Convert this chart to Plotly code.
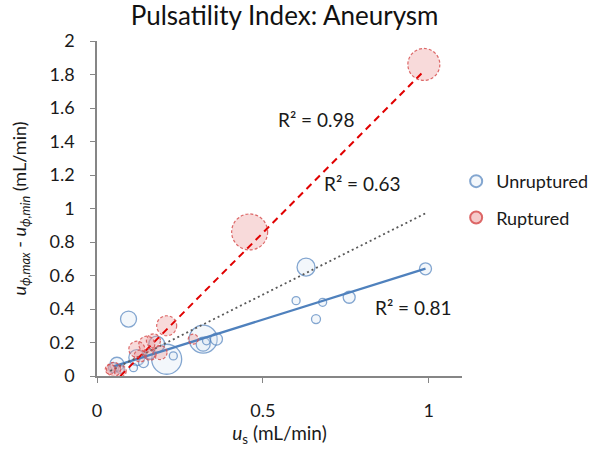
import plotly.graph_objects as go

# Unruptured (blue) bubbles: x, y, bubble diameter
unr_x = [0.99, 0.76, 0.63, 0.60, 0.68, 0.66, 0.095, 0.21, 0.32, 0.32, 0.36, 0.33, 0.23, 0.06, 0.05, 0.12, 0.11, 0.14, 0.18, 0.16, 0.07]
unr_y = [0.64, 0.47, 0.65, 0.45, 0.44, 0.34, 0.34, 0.10, 0.22, 0.19, 0.22, 0.21, 0.12, 0.07, 0.05, 0.11, 0.05, 0.08, 0.19, 0.13, 0.04]
unr_s = [12, 12, 18, 8, 8, 9, 16, 30, 28, 14, 12, 8, 8, 14, 10, 16, 8, 10, 16, 10, 8]

# Ruptured (red) bubbles
rup_x = [0.985, 0.46, 0.21, 0.12, 0.15, 0.17, 0.19, 0.16, 0.05, 0.07, 0.04, 0.29, 0.13]
rup_y = [1.86, 0.86, 0.30, 0.16, 0.19, 0.21, 0.14, 0.13, 0.04, 0.03, 0.04, 0.22, 0.12]
rup_s = [32, 36, 20, 16, 16, 14, 14, 12, 14, 12, 10, 10, 12]

# Trendlines (slope, intercept, x-range) and R² labels
fit_unr = (0.62, 0.027, 0.05, 0.99)
fit_rup = (1.99, -0.14, 0.07, 0.985)
fit_all = (0.99, -0.009, 0.04, 0.99)
r2_labels = ["R² = 0.98", "R² = 0.63", "R² = 0.81"]
r2_x = [0.66, 0.80, 0.955]
r2_y = [1.53, 1.15, 0.41]

x_ticks = [0, 0.5, 1]
x_ticktext = ["0", "0.5", "1"]
y_ticks = [0, 0.2, 0.4, 0.6, 0.8, 1.0, 1.2, 1.4, 1.6, 1.8, 2.0]
y_ticktext = ["0", "0.2", "0.4", "0.6", "0.8", "1", "1.2", "1.4", "1.6", "1.8", "2"]

FONT = "Lato"
BLUE = "#4F81BD"
RED_EDGE = "rgba(215,80,80,0.85)"
RED_FILL = "rgba(235,150,150,0.5)"
TXT = "#1a1a1a"

def line_pts(fit):
    m, b, x0, x1 = fit
    return [x0, x1], [m * x0 + b, m * x1 + b]

fig = go.Figure()

fig.add_trace(go.Scatter(
    x=unr_x, y=unr_y, mode="markers", name="Unruptured", legendgroup="u",
    marker=dict(size=unr_s, color="rgba(220,230,245,0.45)",
                line=dict(color=BLUE, width=1.3)),
))
# ruptured bubbles (fill only); dashed outlines are added as pixel-sized shapes
fig.add_trace(go.Scatter(
    x=rup_x, y=rup_y, mode="markers", name="Ruptured", legendgroup="r", showlegend=False,
    marker=dict(size=rup_s, color=RED_FILL, line=dict(width=0)),
))
# legend entry for ruptured
fig.add_trace(go.Scatter(
    x=[None], y=[None], mode="markers", name="Ruptured", legendgroup="r",
    marker=dict(size=12, color=RED_FILL, line=dict(color=RED_EDGE, width=1.2)),
))
for xx, yy, ss in zip(rup_x, rup_y, rup_s):
    r = ss / 2
    fig.add_shape(type="circle", xref="x", yref="y",
                  xsizemode="pixel", ysizemode="pixel", xanchor=xx, yanchor=yy,
                  x0=-r, x1=r, y0=-r, y1=r,
                  line=dict(color=RED_EDGE, width=1.2, dash="3px,2px"),
                  fillcolor="rgba(0,0,0,0)", layer="above")

lx, ly = line_pts(fit_unr)
fig.add_trace(go.Scatter(x=lx, y=ly, mode="lines", showlegend=False,
                         line=dict(color=BLUE, width=2.3)))
lx, ly = line_pts(fit_all)
fig.add_trace(go.Scatter(x=lx, y=ly, mode="lines", showlegend=False,
                         line=dict(color="#595959", width=1.8, dash="2px,3px")))
lx, ly = line_pts(fit_rup)
fig.add_trace(go.Scatter(x=lx, y=ly, mode="lines", showlegend=False,
                         line=dict(color="#E00000", width=2.0, dash="7px,5px")))

for t, xx, yy in zip(r2_labels, r2_x, r2_y):
    fig.add_annotation(x=xx, y=yy, text=t, showarrow=False,
                       font=dict(family=FONT, size=19, color=TXT))

fig.update_layout(
    width=605, height=454,
    margin=dict(l=97, r=138, t=41, b=78),
    paper_bgcolor="white", plot_bgcolor="white",
    font=dict(family=FONT, size=18, color=TXT),
    title=dict(text="Pulsatility Index: Aneurysm", xref="paper", x=0.514, xanchor="center",
               y=0.966, yanchor="middle", font=dict(family=FONT, size=26, color="#111")),
    legend=dict(x=0.984, y=0.636, xanchor="left", yanchor="top",
                font=dict(family=FONT, size=18, color=TXT),
                itemsizing="constant", tracegroupgap=10, itemwidth=30),
    showlegend=True,
)
fig.update_xaxes(range=[0, 1.1], tickvals=x_ticks, ticktext=x_ticktext, automargin=False,
                 showgrid=False, zeroline=False, showline=True, linecolor="#868686",
                 linewidth=1.5, ticks="outside", ticklen=5, tickcolor="#868686",
                 tickfont=dict(size=18), ticklabelstandoff=13,
                 title=dict(text="<i>u</i><sub>s</sub> (mL/min)", font=dict(size=19), standoff=6))
fig.update_yaxes(range=[0, 2], tickvals=y_ticks, ticktext=y_ticktext, automargin=False,
                 showgrid=False, zeroline=False, showline=True, linecolor="#868686",
                 linewidth=1.5, ticks="outside", ticklen=5, tickcolor="#868686",
                 tickfont=dict(size=18), ticklabelstandoff=12,
                 title=dict(text="<i>u</i><sub><i>ϕ,max</i></sub> - <i>u</i><sub><i>ϕ,min</i></sub> (mL/min)",
                            font=dict(size=18), standoff=18))

# remove the browser's default 8px body margin so the figure fills the window
fig.write_html("out.html", config={"displayModeBar": False},
               post_script="document.body.style.margin='0';")
